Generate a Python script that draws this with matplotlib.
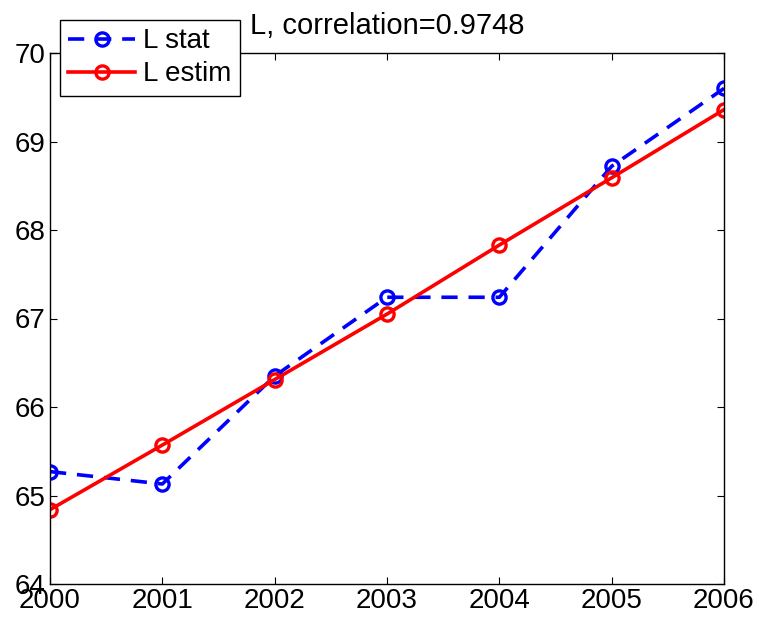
import numpy as np
from matplotlib import pyplot as plt

years = [2000, 2001, 2002, 2003, 2004, 2005, 2006]
l_stat = [65.27, 65.13, 66.35, 67.24, 67.24, 68.72, 69.60]
l_estim = [64.84, 65.57, 66.31, 67.05, 67.83, 68.59, 69.36]
title = "L, correlation=0.9748"

plt.rcParams['font.family'] = ['Liberation Sans', 'DejaVu Sans']
plt.rcParams['font.size'] = 20

fig = plt.figure(figsize=(7.59, 6.26), dpi=100)
ax = fig.add_axes([50 / 759, 42 / 626, 674 / 759, 531 / 626])

ax.plot(years, l_stat, color='blue', lw=2.6, dashes=(4.5, 3), marker='o',
        ms=9.5, mfc='none', mew=2.4, label='L stat')
ax.plot(years, l_estim, color='red', lw=2.6, marker='o',
        ms=9.5, mfc='none', mew=2.4, label='L estim')

ax.set_xlim(2000, 2006)
ax.set_ylim(64, 70)
ax.set_xticks(years)
ax.set_yticks(np.arange(64, 71, 1))
ax.tick_params(direction='in', top=True, right=True, length=5, width=0.8,
               labelsize=20, pad=3)
for s in ax.spines.values():
    s.set_linewidth(1.0)

ax.text(0.5, 1.025, title, transform=ax.transAxes, ha='center', va='bottom',
        fontsize=21)

leg = ax.legend(loc='upper left', bbox_to_anchor=(60 / 759, 1 - 20 / 626),
                bbox_transform=fig.transFigure, fancybox=False, framealpha=1,
                edgecolor='black', fontsize=20, handlelength=2.4,
                borderpad=0.3, labelspacing=0.25, handletextpad=0.3,
                borderaxespad=0)
leg.get_frame().set_linewidth(1.0)

fig.savefig('out.png', dpi=100)
